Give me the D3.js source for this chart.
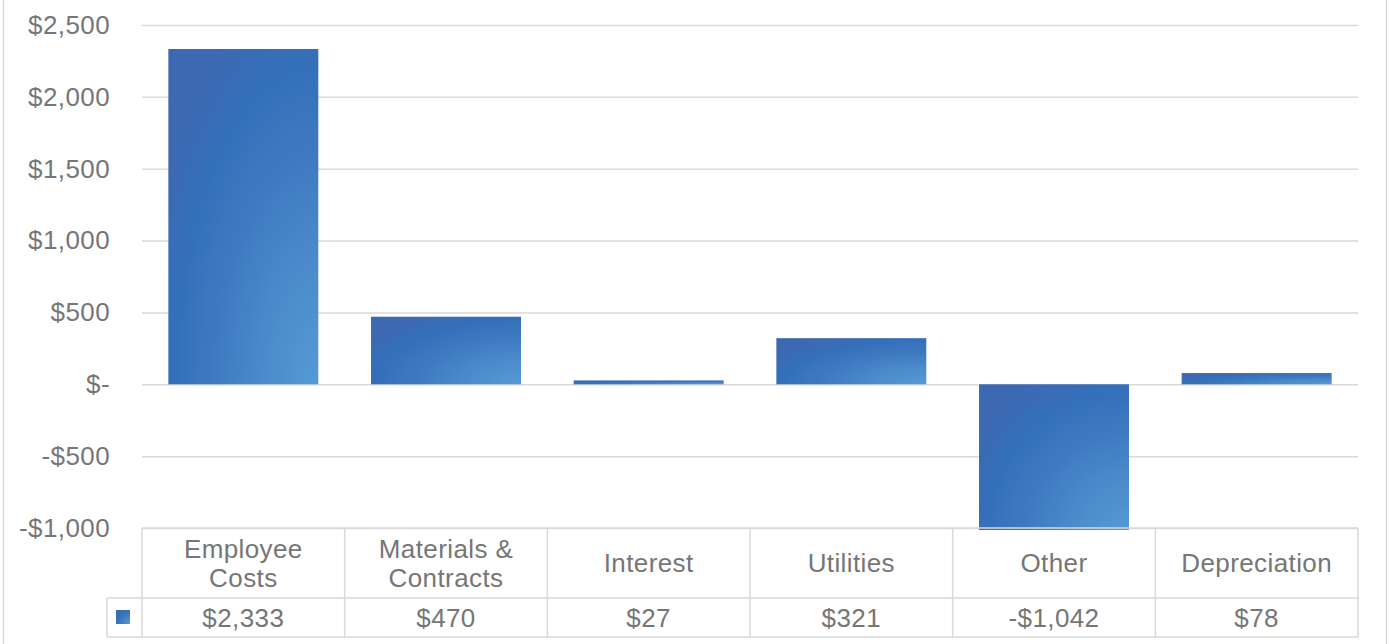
<!DOCTYPE html>
<html>
<head>
<meta charset="utf-8">
<script src="https://cdn.jsdelivr.net/npm/d3@7"></script>
<style>
  html, body { margin: 0; padding: 0; background: #fff; }
  svg { display: block; font-family: "Liberation Sans", Arial, sans-serif; }
</style>
</head>
<body>
<svg id="chart" width="1389" height="644"></svg>
<script>
// Expense categories (label lines) and their values
const categories = [["Employee", "Costs"], ["Materials &", "Contracts"], ["Interest"], ["Utilities"], ["Other"], ["Depreciation"]];
const values = [2333, 470, 27, 321, -1042, 78];
const yTicks = [-1000, -500, 0, 500, 1000, 1500, 2000, 2500];

const W = 1389, H = 644;
const plot = { left: 142, right: 1358, top: 25, bottom: 528 };
const tableRow1 = 598, tableBottom = 637, keyLeft = 107;
const gridColor = "#d9d9d9";
const textColor = "#767676";
const fontSize = 26;
const letterSpacing = 0.4;

const svg = d3.select("#chart");

const fmt = v => v === 0 ? "$-" : (v < 0 ? "-$" : "$") + d3.format(",")(Math.abs(v));

const x = d3.scaleBand()
  .domain(d3.range(categories.length))
  .range([plot.left, plot.right])
  .paddingInner(0.26)
  .paddingOuter(0.13);
const xCell = d3.scaleBand()
  .domain(d3.range(categories.length))
  .range([plot.left, plot.right]);
const y = d3.scaleLinear().domain([-1000, 2500]).range([plot.bottom, plot.top]);

// outer chart frame
svg.append("rect")
  .attr("x", 3.5).attr("y", -2).attr("width", 1383).attr("height", H + 4)
  .attr("fill", "none").attr("stroke", gridColor).attr("stroke-width", 1.5);

// radial gradient for bars, lightest at the bottom-right corner
const defs = svg.append("defs");
const grad = defs.append("radialGradient")
  .attr("id", "barGrad")
  .attr("gradientUnits", "objectBoundingBox")
  .attr("cx", 1).attr("cy", 1).attr("fx", 1).attr("fy", 1).attr("r", 1.2);
[[0, "#549ad5"], [0.3, "#4b8bcb"], [0.55, "#407bc1"], [0.8, "#3470ba"], [1, "#3d69b2"]]
  .forEach(([o, c]) => grad.append("stop").attr("offset", o).attr("stop-color", c));

defs.append("clipPath").attr("id", "plotClip")
  .append("rect").attr("x", plot.left).attr("y", plot.top - 5)
  .attr("width", plot.right - plot.left).attr("height", plot.bottom - plot.top + 7);

// gridlines and value axis labels
const yAxis = d3.axisLeft(y).tickValues(yTicks).tickSize(-(plot.right - plot.left)).tickFormat(fmt).tickPadding(32);
const gAxis = svg.append("g").attr("transform", `translate(${plot.left},0)`).call(yAxis);
gAxis.select(".domain").remove();
gAxis.selectAll(".tick line").attr("stroke", gridColor).attr("stroke-width", 1.5);
gAxis.selectAll(".tick text")
  .attr("fill", textColor).attr("font-size", fontSize)
  .attr("letter-spacing", letterSpacing)
  .attr("font-family", "'Liberation Sans', Arial, sans-serif");

// bars
svg.append("g").attr("clip-path", "url(#plotClip)")
  .selectAll("rect").data(values).join("rect")
  .attr("x", (d, i) => x(i))
  .attr("width", x.bandwidth())
  .attr("y", d => y(Math.max(0, d)))
  .attr("height", d => Math.abs(y(d) - y(0)))
  .attr("fill", "url(#barGrad)");

// data table
const tbl = svg.append("g").attr("stroke", gridColor).attr("stroke-width", 1.5);
tbl.append("line").attr("x1", plot.left).attr("x2", plot.right).attr("y1", plot.bottom).attr("y2", plot.bottom);
tbl.append("line").attr("x1", keyLeft).attr("x2", plot.right).attr("y1", tableRow1).attr("y2", tableRow1);
tbl.append("line").attr("x1", keyLeft).attr("x2", plot.right).attr("y1", tableBottom).attr("y2", tableBottom);
tbl.append("line").attr("x1", keyLeft).attr("x2", keyLeft).attr("y1", tableRow1).attr("y2", tableBottom);
const edges = d3.range(categories.length).map(i => xCell(i)).concat([plot.right]);
tbl.selectAll("line.v").data(edges).join("line").attr("class", "v")
  .attr("x1", d => d).attr("x2", d => d).attr("y1", plot.bottom).attr("y2", tableBottom);

// legend key
svg.append("rect").attr("x", 116).attr("y", 610).attr("width", 14).attr("height", 14)
  .attr("fill", "url(#barGrad)");

// category labels
const catG = svg.append("g").attr("fill", textColor).attr("font-size", fontSize)
  .attr("letter-spacing", letterSpacing).attr("text-anchor", "middle");
categories.forEach((lines, i) => {
  const cx = xCell(i) + xCell.bandwidth() / 2;
  const midY = (plot.bottom + tableRow1) / 2;
  const lh = 29;
  const t = catG.append("text").attr("x", cx).attr("dominant-baseline", "central");
  lines.forEach((ln, k) => {
    t.append("tspan").attr("x", cx)
      .attr("y", midY + (k - (lines.length - 1) / 2) * lh)
      .text(ln);
  });
});

// value labels
svg.append("g").attr("fill", textColor).attr("font-size", fontSize)
  .attr("letter-spacing", letterSpacing).attr("text-anchor", "middle")
  .selectAll("text").data(values).join("text")
  .attr("x", (d, i) => xCell(i) + xCell.bandwidth() / 2)
  .attr("y", (tableRow1 + tableBottom) / 2)
  .attr("dominant-baseline", "central")
  .text(fmt);
</script>
</body>
</html>
